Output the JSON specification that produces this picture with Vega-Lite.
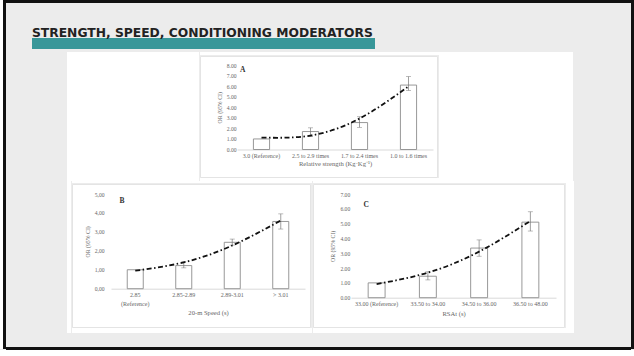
{
  "$schema": "https://vega.github.io/schema/vega-lite/v6.json",
  "background": "#ececec",
  "padding": 0,
  "config": {
    "view": {"stroke": null},
    "concat": {"spacing": 0},
    "axis": {"labelFont": "Liberation Serif", "titleFont": "Liberation Serif", "labelColor": "#666666", "titleColor": "#666666", "titleFontWeight": "normal", "grid": false, "ticks": false}
  },
  "vconcat": [
    {"hconcat": [
      {"width": 3, "height": 349, "data": {"values": []}, "mark": "point", "view": {"fill": "white"}},
      {"width": 3, "height": 349, "data": {"values": []}, "mark": "point", "view": {"fill": "#111111"}},
      {"vconcat": [
        {"width": 625, "height": 3, "data": {"values": []}, "mark": "point", "view": {"fill": "#111111"}},
        {"hconcat": [
          {"width": 26, "height": 48, "data": {"values": []}, "mark": "point"},
          {"vconcat": [
            {"width": 343, "height": 23, "data": {"values": []}, "mark": "point"},
            {"width": 343, "height": 11, "data": {"values": []}, "mark": "point", "view": {"fill": "#389799"},
             "title": {"text": "STRENGTH, SPEED, CONDITIONING MODERATORS", "anchor": "start", "frame": "group", "offset": -11, "baseline": "alphabetic", "font": "DejaVu Sans", "fontSize": 12.3, "fontWeight": "bold", "color": "#222222"}},
            {"width": 343, "height": 3, "data": {"values": []}, "mark": "point"}
          ]}
        ]},
        {"hconcat": [
          {"width": 61, "height": 129, "data": {"values": []}, "mark": "point"},
          {"width": 132, "height": 129, "data": {"values": []}, "mark": "point", "view": {"fill": "white"}},
          {"vconcat": [
            {"width": 239, "height": 3, "data": {"values": []}, "mark": "point", "view": {"fill": "white"}},
            {
              "width": 237, "height": 121,
              "view": {"fill": "white", "stroke": "#e4e4e4", "strokeWidth": 1},
              "title": {"text": "A", "anchor": "start", "frame": "group", "dx": 40, "offset": -23.5, "baseline": "alphabetic", "font": "Liberation Serif", "fontSize": 7.5, "fontWeight": "bold", "color": "#333333"},
              "data": {"values": [
                {"cat": "3.0 (Reference)", "or": 1.0, "trend": 1.13},
                {"cat": "2.5 to 2.9 times", "or": 1.7, "lo": 1.25, "hi": 2.05, "trend": 1.32},
                {"cat": "1.7 to 2.4 times", "or": 2.55, "lo": 2.1, "hi": 3.1, "trend": 2.93},
                {"cat": "1.0 to 1.6 times", "or": 6.1, "lo": 5.6, "hi": 6.9, "trend": 5.97}
              ]},
              "encoding": {
                "x": {"field": "cat", "type": "nominal", "sort": null,
                  "scale": {"range": [37, 233], "paddingInner": 0.67, "paddingOuter": 0.335},
                  "axis": {"orient": "bottom", "offset": -27.5, "labelAngle": 0, "labelFontSize": 6, "labelPadding": 3, "domainColor": "#d9d9d9", "title": "Relative strength (Kg·Kg⁻¹)", "titleFontSize": 6.6, "titlePadding": 2}},
                "y": {"field": "or", "type": "quantitative", "scale": {"domain": [0, 8], "range": [93.5, 9], "nice": false},
                  "axis": {"orient": "left", "offset": -38, "domain": false, "values": [0, 1, 2, 3, 4, 5, 6, 7, 8], "format": ".2f", "labelFontSize": 5.6, "labelPadding": 2, "title": "OR (95% CI)", "titleFontSize": 5.8, "titlePadding": 4}}
              },
              "layer": [
                {"mark": {"type": "bar", "fill": "white", "stroke": "#8c8c8c", "strokeWidth": 0.9}},
                {"mark": {"type": "rule", "color": "#777777", "strokeWidth": 0.7},
                 "encoding": {"y": {"field": "lo", "type": "quantitative", "scale": {"domain": [0, 8], "range": [93.5, 9], "nice": false}}, "y2": {"field": "hi"}}},
                {"mark": {"type": "tick", "color": "#777777", "size": 5, "thickness": 0.7},
                 "encoding": {"y": {"field": "lo", "type": "quantitative", "scale": {"domain": [0, 8], "range": [93.5, 9], "nice": false}}}},
                {"mark": {"type": "tick", "color": "#777777", "size": 5, "thickness": 0.7},
                 "encoding": {"y": {"field": "hi", "type": "quantitative", "scale": {"domain": [0, 8], "range": [93.5, 9], "nice": false}}}},
                {"mark": {"type": "line", "color": "#111111", "strokeWidth": 1.8, "strokeDash": [5, 2.5, 1.5, 2.5], "interpolate": "natural"},
                 "encoding": {"y": {"field": "trend", "type": "quantitative", "scale": {"domain": [0, 8], "range": [93.5, 9], "nice": false}}}}
              ]
            },
            {"width": 239, "height": 3, "data": {"values": []}, "mark": "point", "view": {"fill": "white"}}
          ]},
          {"width": 134, "height": 129, "data": {"values": []}, "mark": "point", "view": {"fill": "white"}}
        ]},
        {"hconcat": [
          {"width": 61, "height": 152, "data": {"values": []}, "mark": "point"},
          {"width": 4, "height": 152, "data": {"values": []}, "mark": "point", "view": {"fill": "white"}},
          {"vconcat": [
            {"width": 240, "height": 2, "data": {"values": []}, "mark": "point", "view": {"fill": "white"}},
            {
              "width": 238, "height": 143,
              "view": {"fill": "white", "stroke": "#e4e4e4", "strokeWidth": 1},
              "title": {"text": "B", "anchor": "start", "frame": "group", "dx": 47.5, "offset": -26.5, "baseline": "alphabetic", "font": "Liberation Serif", "fontSize": 7.5, "fontWeight": "bold", "color": "#333333"},
              "data": {"values": [
                {"cat": "2.85\n(Reference)", "or": 1.0, "trend": 0.95},
                {"cat": "2.85-2.89", "or": 1.22, "lo": 1.1, "hi": 1.42, "trend": 1.39},
                {"cat": "2.89-3.01", "or": 2.45, "lo": 2.3, "hi": 2.62, "trend": 2.28},
                {"cat": "> 3.01", "or": 3.55, "lo": 3.15, "hi": 3.95, "trend": 3.6}
              ]},
              "encoding": {
                "x": {"field": "cat", "type": "nominal", "sort": null,
                  "scale": {"range": [39, 233], "paddingInner": 0.67, "paddingOuter": 0.335},
                  "axis": {"orient": "bottom", "offset": -38.3, "labelAngle": 0, "labelFontSize": 6, "labelPadding": 3, "labelLineHeight": 8.5, "labelExpr": "split(datum.label, '\\n')", "domainColor": "#d9d9d9", "title": "20-m Speed (s)", "titleFontSize": 6.6, "titlePadding": 3}},
                "y": {"field": "or", "type": "quantitative", "scale": {"domain": [0, 5], "range": [104.7, 10], "nice": false},
                  "axis": {"orient": "left", "offset": -34, "domain": false, "values": [0, 1, 2, 3, 4, 5], "labelExpr": "replace(format(datum.value, '.2f'), '.', ',')", "labelFontSize": 5.6, "labelPadding": 2, "title": "OR (95% CI)", "titleFontSize": 5.8, "titlePadding": 4}}
              },
              "layer": [
                {"mark": {"type": "bar", "fill": "white", "stroke": "#8c8c8c", "strokeWidth": 0.9}},
                {"mark": {"type": "rule", "color": "#777777", "strokeWidth": 0.7},
                 "encoding": {"y": {"field": "lo", "type": "quantitative", "scale": {"domain": [0, 5], "range": [104.7, 10], "nice": false}}, "y2": {"field": "hi"}}},
                {"mark": {"type": "tick", "color": "#777777", "size": 5, "thickness": 0.7},
                 "encoding": {"y": {"field": "lo", "type": "quantitative", "scale": {"domain": [0, 5], "range": [104.7, 10], "nice": false}}}},
                {"mark": {"type": "tick", "color": "#777777", "size": 5, "thickness": 0.7},
                 "encoding": {"y": {"field": "hi", "type": "quantitative", "scale": {"domain": [0, 5], "range": [104.7, 10], "nice": false}}}},
                {"mark": {"type": "line", "color": "#111111", "strokeWidth": 1.8, "strokeDash": [5, 2.5, 1.5, 2.5], "interpolate": "natural"},
                 "encoding": {"y": {"field": "trend", "type": "quantitative", "scale": {"domain": [0, 5], "range": [104.7, 10], "nice": false}}}}
              ]
            },
            {"width": 240, "height": 5, "data": {"values": []}, "mark": "point", "view": {"fill": "white"}}
          ]},
          {"vconcat": [
            {"width": 253, "height": 2, "data": {"values": []}, "mark": "point", "view": {"fill": "white"}},
            {
              "width": 251, "height": 143,
              "view": {"fill": "white", "stroke": "#e4e4e4", "strokeWidth": 1},
              "title": {"text": "C", "anchor": "start", "frame": "group", "dx": 50.5, "offset": -30.5, "baseline": "alphabetic", "font": "Liberation Serif", "fontSize": 7.5, "fontWeight": "bold", "color": "#333333"},
              "data": {"values": [
                {"cat": "33.00 (Reference)", "or": 1.0, "trend": 0.92},
                {"cat": "33.50 to 34.00", "or": 1.45, "lo": 1.2, "hi": 1.75, "trend": 1.69},
                {"cat": "34.50 to 36.00", "or": 3.35, "lo": 2.8, "hi": 3.9, "trend": 3.11},
                {"cat": "36.50 to 48.00", "or": 5.1, "lo": 4.5, "hi": 5.8, "trend": 5.18}
              ]},
              "encoding": {
                "x": {"field": "cat", "type": "nominal", "sort": null,
                  "scale": {"range": [38, 243], "paddingInner": 0.67, "paddingOuter": 0.335},
                  "axis": {"orient": "bottom", "offset": -29.3, "labelAngle": 0, "labelFontSize": 6, "labelPadding": 3, "domainColor": "#d9d9d9", "title": "RSAt (s)", "titleFontSize": 6.6, "titlePadding": 4}},
                "y": {"field": "or", "type": "quantitative", "scale": {"domain": [0, 7], "range": [113.7, 10], "nice": false},
                  "axis": {"orient": "left", "offset": -38.7, "domain": false, "values": [0, 1, 2, 3, 4, 5, 6, 7], "format": ".2f", "labelFontSize": 5.6, "labelPadding": 2, "title": "OR (95% CI)", "titleFontSize": 5.8, "titlePadding": 4}}
              },
              "layer": [
                {"mark": {"type": "bar", "fill": "white", "stroke": "#8c8c8c", "strokeWidth": 0.9}},
                {"mark": {"type": "rule", "color": "#777777", "strokeWidth": 0.7},
                 "encoding": {"y": {"field": "lo", "type": "quantitative", "scale": {"domain": [0, 7], "range": [113.7, 10], "nice": false}}, "y2": {"field": "hi"}}},
                {"mark": {"type": "tick", "color": "#777777", "size": 5, "thickness": 0.7},
                 "encoding": {"y": {"field": "lo", "type": "quantitative", "scale": {"domain": [0, 7], "range": [113.7, 10], "nice": false}}}},
                {"mark": {"type": "tick", "color": "#777777", "size": 5, "thickness": 0.7},
                 "encoding": {"y": {"field": "hi", "type": "quantitative", "scale": {"domain": [0, 7], "range": [113.7, 10], "nice": false}}}},
                {"mark": {"type": "line", "color": "#111111", "strokeWidth": 1.8, "strokeDash": [5, 2.5, 1.5, 2.5], "interpolate": "natural"},
                 "encoding": {"y": {"field": "trend", "type": "quantitative", "scale": {"domain": [0, 7], "range": [113.7, 10], "nice": false}}}}
              ]
            },
            {"width": 253, "height": 5, "data": {"values": []}, "mark": "point", "view": {"fill": "white"}}
          ]},
          {"width": 8, "height": 152, "data": {"values": []}, "mark": "point", "view": {"fill": "white"}}
        ]},
        {"width": 625, "height": 14, "data": {"values": []}, "mark": "point"},
        {"width": 625, "height": 3, "data": {"values": []}, "mark": "point", "view": {"fill": "#111111"}}
      ]},
      {"width": 3, "height": 349, "data": {"values": []}, "mark": "point", "view": {"fill": "#111111"}}
    ]},
    {"width": 634, "height": 7, "data": {"values": []}, "mark": "point", "view": {"fill": "white"}}
  ]
}
